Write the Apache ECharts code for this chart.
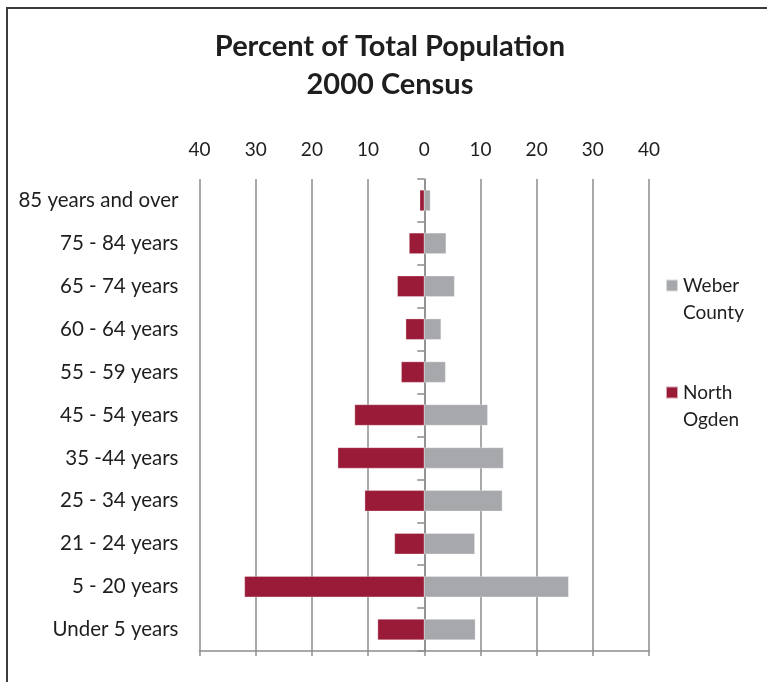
<!DOCTYPE html>
<html>
<head>
<meta charset="utf-8">
<script src="https://cdn.jsdelivr.net/npm/echarts@6/dist/echarts.min.js"></script>
<style>
  html, body { margin: 0; padding: 0; background: #ffffff; }
  #chart { width: 767px; height: 682px; }
</style>
</head>
<body>
<div id="chart"></div>
<script>
// Age groups, top to bottom
const ageGroups = [
  '85 years and over', '75 - 84 years', '65 - 74 years', '60 - 64 years',
  '55 - 59 years', '45 - 54 years', '35 -44 years', '25 - 34 years',
  '21 - 24 years', '5 - 20 years', 'Under 5 years'
];
// Percent of total population, 2000 Census
const weberCounty = [1.1, 3.9, 5.4, 3.0, 3.8, 11.3, 14.1, 13.9, 9.0, 25.7, 9.1];
const northOgden  = [0.8, 2.7, 4.8, 3.3, 4.1, 12.4, 15.4, 10.6, 5.3, 32.0, 8.3];
// Axis extent and tick step
const axisMin = -40;
const axisMax = 40;
const axisStep = 10;

const FONT = 'Lato';
const TEXT = '#1e1e1e';
const GRIDC = '#8c8c8f';

const chart = echarts.init(document.getElementById('chart'), null, { renderer: 'canvas' });

chart.setOption({
  animation: false,
  backgroundColor: '#ffffff',
  textStyle: { fontFamily: FONT },
  title: {
    text: 'Percent of Total Population\n2000 Census',
    left: 385, top: 23, textAlign: 'center',
    textStyle: { fontFamily: FONT, fontWeight: 'bold', fontSize: 29, lineHeight: 38, color: TEXT }
  },
  graphic: [{
    type: 'rect', silent: true,
    shape: { x: 7, y: 8, width: 800, height: 700 },
    style: { fill: 'none', stroke: '#3c3c3c', lineWidth: 2 }
  }],
  legend: {
    orient: 'vertical', left: 665, top: 249, padding: 0,
    itemWidth: 12, itemHeight: 12, itemGap: 34,
    icon: 'rect',
    data: ['Weber County', 'North Ogden'],
    // first word beside the swatch, second word below it
    formatter: function (name) {
      const parts = name.split(' ');
      return '{gap| }\n{t|' + parts[0] + '}\n{t|' + parts[1] + '}';
    },
    textStyle: {
      fontFamily: FONT, fontSize: 19, color: TEXT,
      rich: {
        gap: { fontSize: 19, lineHeight: 27 },
        t: { fontFamily: FONT, fontSize: 19, lineHeight: 27, color: TEXT }
      }
    }
  },
  grid: { left: 199.5, right: 118, top: 179, bottom: 31, containLabel: false },
  xAxis: [{
    type: 'value', position: 'top', min: axisMin, max: axisMax, interval: axisStep,
    axisLine: { show: false }, axisTick: { show: false },
    axisLabel: { margin: 20, fontFamily: FONT, fontSize: 19, color: TEXT,
      formatter: function (v) { return String(Math.abs(v)); } },
    splitLine: { show: true, lineStyle: { color: GRIDC, width: 1.5 } }
  }, {
    type: 'value', position: 'bottom', min: axisMin, max: axisMax, interval: axisStep,
    axisLine: { show: true, onZero: false, lineStyle: { color: GRIDC, width: 1.5 } },
    axisTick: { show: true, length: 5, lineStyle: { color: GRIDC, width: 1.5 } },
    axisLabel: { show: false }, splitLine: { show: false }
  }],
  yAxis: [{
    type: 'category', data: ageGroups, inverse: true, position: 'left',
    axisLine: { show: false, onZero: false }, axisTick: { show: false },
    axisLabel: { margin: 21, fontFamily: FONT, fontSize: 20.5, color: TEXT }
  }, {
    type: 'category', data: ageGroups, inverse: true, position: 'left',
    axisLine: { show: true, onZero: true, lineStyle: { color: GRIDC, width: 1.5 } },
    axisTick: { show: true, length: 7, lineStyle: { color: GRIDC, width: 1.5 } },
    axisLabel: { show: false }
  }],
  series: [{
    name: 'Weber County', type: 'bar', yAxisIndex: 0, xAxisIndex: 0,
    data: weberCounty, barWidth: 21, barGap: '-100%',
    itemStyle: { color: '#a7a8ab', borderColor: 'rgba(255,255,255,0.6)', borderWidth: 0.5 }
  }, {
    name: 'North Ogden', type: 'bar', yAxisIndex: 0, xAxisIndex: 0,
    data: northOgden.map(function (v) { return -v; }), barWidth: 21, barGap: '-100%',
    itemStyle: { color: '#9a1b37', borderColor: 'rgba(255,255,255,0.6)', borderWidth: 0.5 }
  }]
});
</script>
</body>
</html>
